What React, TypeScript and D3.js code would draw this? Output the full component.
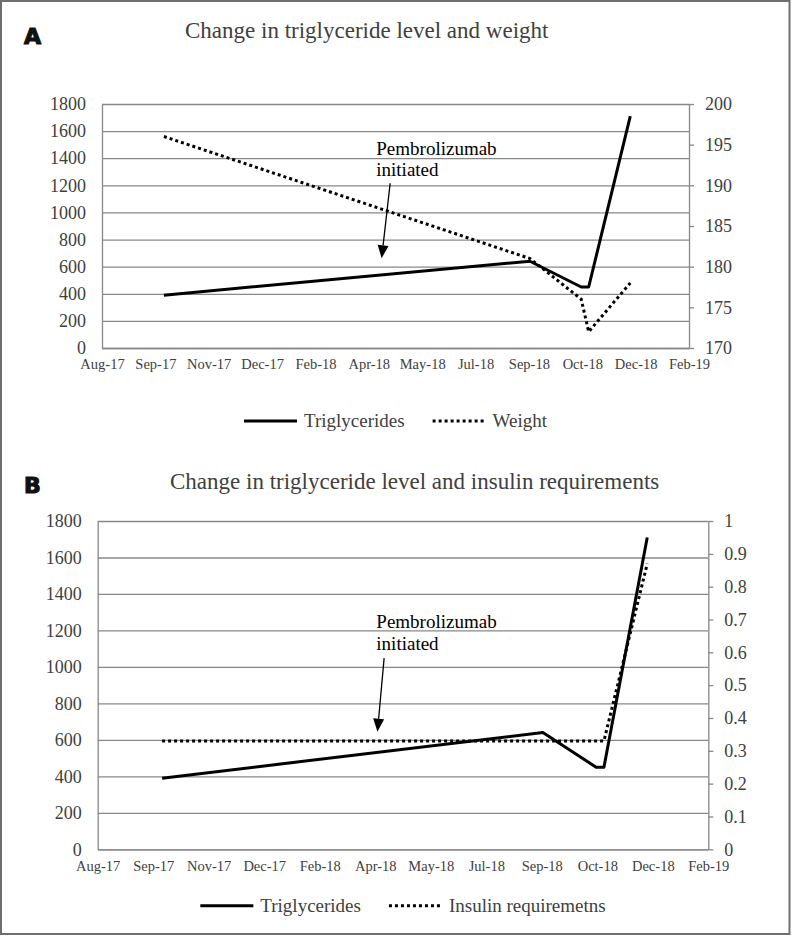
import React, { useEffect, useRef } from "react";
import * as d3 from "d3";

// measurement dates shared by both panels
const dates = ["2017-09-30", "2018-09-08", "2018-10-26", "2018-11-02", "2018-12-11"];
const triglycerides = [390, 640, 450, 450, 1710];
const weight = [196, 181, 176, 172, 178];
const insulin = [0.33, 0.33, 0.33, 0.33, 0.87];

// Excel date axis: a label every 50 days
const xTickDates = [
  "2017-08-03", "2017-09-22", "2017-11-11", "2017-12-31", "2018-02-19", "2018-04-10",
  "2018-05-30", "2018-07-19", "2018-09-07", "2018-10-27", "2018-12-16", "2019-02-04",
];
const trigTicks = [0, 200, 400, 600, 800, 1000, 1200, 1400, 1600, 1800];
const weightTicks = [170, 175, 180, 185, 190, 195, 200];
const insulinTicks = [0, 0.1, 0.2, 0.3, 0.4, 0.5, 0.6, 0.7, 0.8, 0.9, 1];

// "Pembrolizumab initiated" callouts, in data units
const noteLines = ["Pembrolizumab", "initiated"];
const noteA = { textDate: "2018-04-17", textValue: 1424, fromDate: "2018-04-30", fromValue: 1215, toDate: "2018-04-22", toValue: 662 };
const noteB = { textDate: "2018-04-11", textValue: 1213, fromDate: "2018-04-18", fromValue: 1048, toDate: "2018-04-12", toValue: 645 };

const parseDate = d3.utcParse("%Y-%m-%d");
const fmt = d3.utcFormat("%b-%y");
const SERIF = "Liberation Serif, Times New Roman, serif";
const GRID = "#888888";
const TEXT = "#404040";

interface Note {
  textDate: string; textValue: number;
  fromDate: string; fromValue: number;
  toDate: string; toValue: number;
}

interface IPanelProps {
  letter: string;
  letterY: number;
  title: string;
  titleX: number;
  titleY: number;
  left: number;
  top: number;
  width: number;
  height: number;
  rightValues: number[];
  rightTicks: number[];
  rightFormat: (d: number) => string;
  rightName: string;
  note: Note;
  legendY: number;
}

const Panel: React.FC<IPanelProps> = (p: IPanelProps) => {
  const gRef = useRef<SVGGElement>(null);

  useEffect(() => {
    const g = d3.select(gRef.current);
    g.selectAll("*").remove();

    const x = d3
      .scaleUtc()
      .domain([parseDate(xTickDates[0])!, parseDate(xTickDates[xTickDates.length - 1])!])
      .range([p.left, p.left + p.width]);
    const yL = d3.scaleLinear().domain([0, 1800]).range([p.top + p.height, p.top]);
    const yR = d3
      .scaleLinear()
      .domain(d3.extent(p.rightTicks) as [number, number])
      .range([p.top + p.height, p.top]);

    // left axis + gridlines
    const la = g
      .append("g")
      .attr("transform", `translate(${p.left},0)`)
      .call(
        d3.axisLeft(yL).tickValues(trigTicks).tickFormat(d3.format("d") as any)
          .tickSize(-p.width).tickSizeOuter(0).tickPadding(16)
      );
    la.attr("font-family", null).attr("font-size", null);
    la.selectAll("line").attr("stroke", GRID).attr("stroke-width", 1.3);
    la.select(".domain").attr("stroke", GRID).attr("stroke-width", 1.3);
    la.selectAll("text").style("font-family", SERIF).style("font-size", "18px").attr("fill", TEXT);

    // right axis
    const ra = g
      .append("g")
      .attr("transform", `translate(${p.left + p.width},0)`)
      .call(d3.axisRight(yR).tickValues(p.rightTicks).tickFormat(p.rightFormat as any).tickSize(5).tickSizeOuter(0).tickPadding(11));
    ra.attr("font-family", null).attr("font-size", null);
    ra.selectAll("line").attr("stroke", GRID).attr("stroke-width", 1.3);
    ra.select(".domain").attr("stroke", GRID).attr("stroke-width", 1.3);
    ra.selectAll("text").style("font-family", SERIF).style("font-size", "18px").attr("fill", TEXT);

    // bottom axis
    const ba = g
      .append("g")
      .attr("transform", `translate(0,${p.top + p.height})`)
      .call(
        d3
          .axisBottom(x)
          .tickValues(xTickDates.map((d) => parseDate(d)!))
          .tickFormat(fmt as any)
          .tickSize(0)
          .tickSizeOuter(0)
          .tickPadding(11)
      );
    ba.attr("font-family", null).attr("font-size", null);
    ba.select(".domain").attr("stroke", GRID).attr("stroke-width", 1.3);
    ba.selectAll("text").style("font-family", SERIF).style("font-size", "14.5px").attr("fill", TEXT);

    const pts = dates.map((d) => parseDate(d)!);

    g.append("path")
      .datum(pts.map((d, i) => [d, triglycerides[i]] as [Date, number]))
      .attr("fill", "none")
      .attr("stroke", "#000")
      .attr("stroke-width", 3)
      .attr("stroke-linejoin", "round")
      .attr("d", d3.line<[Date, number]>().x((d) => x(d[0])).y((d) => yL(d[1])));

    g.append("path")
      .datum(pts.map((d, i) => [d, p.rightValues[i]] as [Date, number]))
      .attr("fill", "none")
      .attr("stroke", "#000")
      .attr("stroke-width", 3)
      .attr("stroke-dasharray", "3,3")
      .attr("d", d3.line<[Date, number]>().x((d) => x(d[0])).y((d) => yR(d[1])));

    // callout
    const n = p.note;
    const tx = x(parseDate(n.textDate)!);
    const ty = yL(n.textValue);
    g.append("text")
      .style("font-family", SERIF)
      .style("font-size", "19px")
      .attr("fill", "#000")
      .selectAll("tspan")
      .data(noteLines)
      .join("tspan")
      .attr("x", tx)
      .attr("y", (d, i) => ty + i * 21.5)
      .text((d) => d);

    const x1 = x(parseDate(n.fromDate)!);
    const y1 = yL(n.fromValue);
    const x2 = x(parseDate(n.toDate)!);
    const y2 = yL(n.toValue);
    const ang = Math.atan2(y2 - y1, x2 - x1);
    const hl = 13;
    const hw = 5.5;
    const bx = x2 - hl * Math.cos(ang);
    const by = y2 - hl * Math.sin(ang);
    g.append("line")
      .attr("x1", x1).attr("y1", y1).attr("x2", bx).attr("y2", by)
      .attr("stroke", "#000").attr("stroke-width", 1.3);
    g.append("path")
      .attr(
        "d",
        `M${x2},${y2}L${bx + hw * Math.sin(ang)},${by - hw * Math.cos(ang)}L${bx - hw * Math.sin(ang)},${by + hw * Math.cos(ang)}Z`
      )
      .attr("fill", "#000");

    // legend
    const legend = g.append("g");
    const items = [
      { name: "Triglycerides", dash: null },
      { name: p.rightName, dash: "3,3" },
    ];
    let cx = 0;
    items.forEach((it) => {
      legend.append("line")
        .attr("x1", cx).attr("x2", cx + 53)
        .attr("y1", 0).attr("y2", 0)
        .attr("stroke", "#000").attr("stroke-width", 3)
        .attr("stroke-dasharray", it.dash);
      const t = legend.append("text")
        .attr("x", cx + 60)
        .attr("y", 6)
        .style("font-family", SERIF)
        .style("font-size", "19px")
        .attr("fill", TEXT)
        .text(it.name);
      const w = (t.node() as SVGTextElement).getComputedTextLength();
      cx += 60 + w + 28;
    });
    const total = cx - 28;
    legend.attr("transform", `translate(${p.left + p.width / 2 - total / 2},${p.legendY})`);

    // title and panel letter
    g.append("text")
      .attr("x", p.titleX)
      .attr("y", p.titleY)
      .style("font-family", SERIF)
      .style("font-size", "23px")
      .attr("fill", TEXT)
      .text(p.title);
    g.append("text")
      .attr("x", 24)
      .attr("y", p.letterY)
      .style("font-family", "DejaVu Sans, sans-serif")
      .style("font-weight", "bold")
      .style("font-size", "22px")
      .attr("fill", "#111")
      .attr("stroke", "#111")
      .attr("stroke-width", 1.2)
      .text(p.letter);

    return () => {
      g.selectAll("*").remove();
    };
  }, []);

  return <g ref={gRef} />;
};

export default function App() {
  return (
    <div>
      <style>{"body{margin:0;background:#fff}"}</style>
      <svg width={793} height={936} style={{ display: "block" }}>
        <rect x={1} y={1} width={788.5} height={933} fill="#fff" stroke="#6e6e6e" strokeWidth={2} />
        <Panel
          letter="A"
          letterY={43.5}
          title="Change in triglyceride level and weight"
          titleX={185}
          titleY={38}
          left={102}
          top={104}
          width={587}
          height={244}
          rightValues={weight}
          rightTicks={weightTicks}
          rightFormat={(d) => String(d)}
          rightName="Weight"
          note={noteA}
          legendY={421}
        />
        <Panel
          letter="B"
          letterY={493}
          title="Change in triglyceride level and insulin requirements"
          titleX={170}
          titleY={489}
          left={97.7}
          top={521}
          width={610.6}
          height={328.3}
          rightValues={insulin}
          rightTicks={insulinTicks}
          rightFormat={(d) => d3.format("~g")(+d.toFixed(1))}
          rightName="Insulin requiremetns"
          note={noteB}
          legendY={905.7}
        />
      </svg>
    </div>
  );
}
